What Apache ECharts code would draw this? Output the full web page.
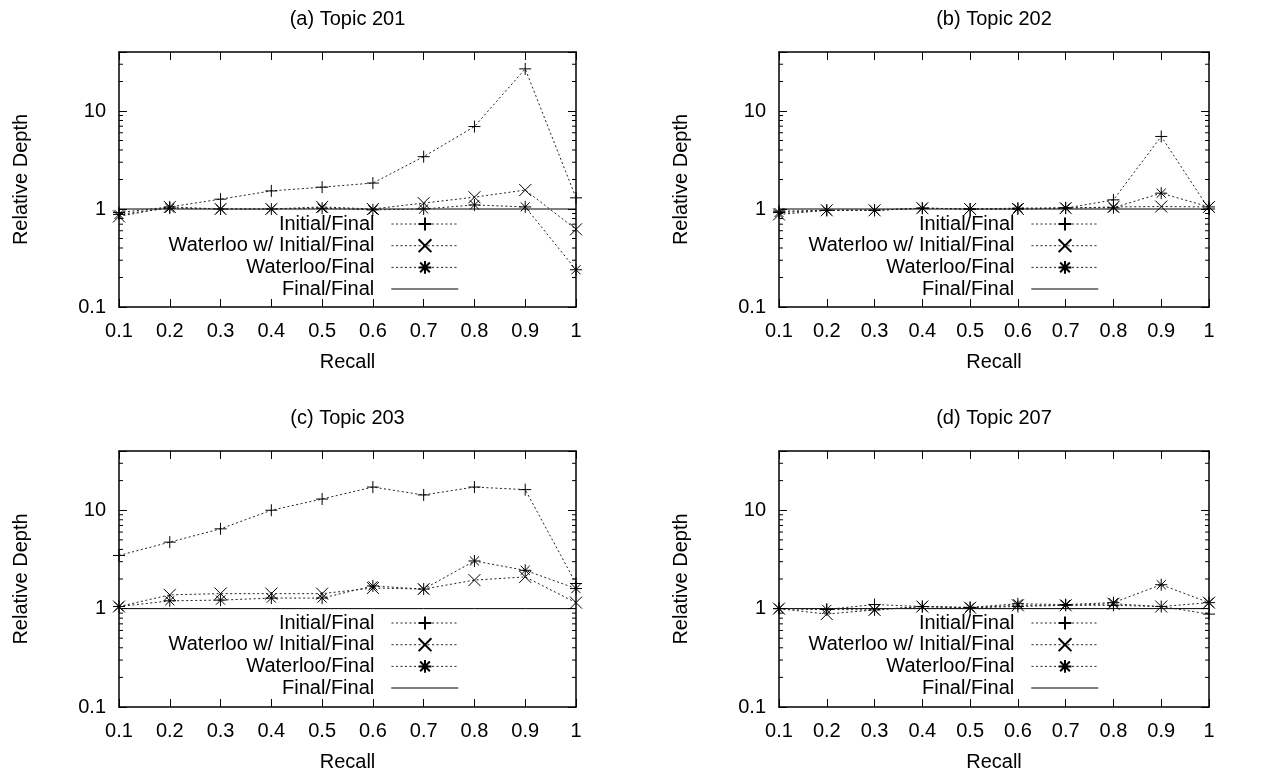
<!DOCTYPE html>
<html>
<head>
<meta charset="utf-8">
<script src="https://cdn.jsdelivr.net/npm/echarts@6/dist/echarts.min.js"></script>
<style>html,body{margin:0;padding:0;background:#fff}#c{width:1272px;height:773px}</style>
</head>
<body>
<div id="c"></div>
<script>
const categories = ['0.1','0.2','0.3','0.4','0.5','0.6','0.7','0.8','0.9','1'];
const seriesNames = ['Initial/Final','Waterloo w/ Initial/Final','Waterloo/Final','Final/Final'];
const titles = ['(a) Topic 201','(b) Topic 202','(c) Topic 203','(d) Topic 207'];
const yTickLabels = [0.1, 1, 10];
const minorTickValues = [0.2,0.3,0.4,0.5,0.6,0.7,0.8,0.9,2,3,4,5,6,7,8,9,20,30];

const a_initial   = [0.92,1.05,1.26,1.53,1.67,1.84,3.42,6.94,26.9,1.3];
const a_waterInit = [0.84,1.05,1.0,1.0,1.05,1.0,1.15,1.32,1.56,0.62];
const a_waterloo  = [0.88,1.02,1.0,1.0,1.02,0.98,1.0,1.1,1.05,0.24];

const b_initial   = [0.95,0.97,0.97,1.02,1.0,1.0,1.02,1.24,5.5,1.0];
const b_waterInit = [0.88,0.97,0.97,1.02,1.0,1.0,1.02,1.05,1.06,1.05];
const b_waterloo  = [0.92,0.97,0.97,1.02,1.0,1.02,1.03,1.03,1.45,1.05];

const c_initial   = [3.47,4.74,6.47,10.0,13.0,17.2,14.3,17.2,16.2,1.8];
const c_waterInit = [1.05,1.38,1.42,1.42,1.42,1.62,1.58,1.95,2.1,1.15];
const c_waterloo  = [1.05,1.2,1.22,1.28,1.28,1.7,1.58,3.05,2.45,1.6];

const d_initial   = [1.0,0.98,1.1,1.05,1.02,1.05,1.08,1.08,1.05,0.88];
const d_waterInit = [1.0,0.88,0.97,1.05,1.02,1.08,1.08,1.12,1.05,1.15];
const d_waterloo  = [1.0,0.98,0.97,1.05,1.03,1.12,1.1,1.15,1.75,1.15];

const finalFinal  = [1,1,1,1,1,1,1,1,1,1];

const panelData = [
  [a_initial, a_waterInit, a_waterloo, finalFinal],
  [b_initial, b_waterInit, b_waterloo, finalFinal],
  [c_initial, c_waterInit, c_waterloo, finalFinal],
  [d_initial, d_waterInit, d_waterloo, finalFinal]
];

const FONT = 'Liberation Sans, Arial, sans-serif';
const FS = 20;
const grids = [
  {left:119, top:52, width:457, height:255},
  {left:779, top:52, width:430, height:255},
  {left:119, top:451, width:457, height:256},
  {left:779, top:451, width:430, height:256}
];
const legendRight = [813, 173, 813, 173];

const symbols = [
  'path://M0,5L10,5M5,0L5,10',
  'path://M0,0L10,10M0,10L10,0',
  'path://M0,5L10,5M5,0L5,10M1.2,1.2L8.8,8.8M1.2,8.8L8.8,1.2',
  'circle'
];

const option = {
  animation:false,
  backgroundColor:'#fff',
  grid: grids.map(g => Object.assign({containLabel:false, show:false}, g)),
  xAxis: [], yAxis: [], series: [], legend: [], graphic: []
};

const axisLine = {show:true, onZero:false, lineStyle:{color:'#000', width:1.5}};
grids.forEach((g, p) => {
  option.xAxis.push({
    type:'category', data:categories, boundaryGap:false, gridIndex:p, position:'bottom',
    axisLine, axisTick:{show:true, inside:true, length:8, lineStyle:{color:'#000'}},
    axisLabel:{color:'#000', fontFamily:FONT, fontSize:FS, margin:14},
    splitLine:{show:false},
    name:'Recall', nameLocation:'middle', nameGap:45,
    nameTextStyle:{color:'#000', fontFamily:FONT, fontSize:FS}
  });
  option.xAxis.push({
    type:'category', data:categories, boundaryGap:false, gridIndex:p, position:'top',
    axisLine, axisTick:{show:true, inside:true, length:8, lineStyle:{color:'#000'}},
    axisLabel:{show:false}, splitLine:{show:false}
  });
  option.yAxis.push({
    type:'log', logBase:10, min:0.1, max:40, gridIndex:p, position:'left',
    axisLine, axisTick:{show:true, inside:true, length:8, lineStyle:{color:'#000'}},
    axisLabel:{color:'#000', fontFamily:FONT, fontSize:FS, margin:13,
      formatter: v => { const m = yTickLabels.find(t => Math.abs(t - v) / t < 1e-6); return m === undefined ? '' : String(m); }},
    splitLine:{show:false},
    name:'Relative Depth', nameLocation:'middle', nameGap:88, nameRotate:90,
    nameTextStyle:{color:'#000', fontFamily:FONT, fontSize:FS}
  });
  option.yAxis.push({
    type:'log', logBase:10, min:0.1, max:40, gridIndex:p, position:'right',
    axisLine, axisTick:{show:true, inside:true, length:8, lineStyle:{color:'#000'}},
    axisLabel:{show:false}, splitLine:{show:false}
  });

  const xi = p*2, yi = p*2;
  panelData[p].forEach((arr, s) => {
    const isFinal = s === 3;
    option.series.push({
      type:'line', name:seriesNames[s], xAxisIndex:xi, yAxisIndex:yi,
      data:arr, symbol:symbols[s], symbolSize: isFinal ? 0 : 12, showSymbol:!isFinal,
      z: isFinal ? 2 : 3,
      lineStyle:{color: isFinal ? '#000' : '#222', width:1, type: isFinal ? 'solid' : [2,2.5]},
      itemStyle: isFinal ? {color:'#000', opacity:0} : {color:'#000', borderColor:'#000', borderWidth:1},
      emphasis:{disabled:true}, silent:true
    });
  });
  option.series.push({
    type:'custom', xAxisIndex:xi, yAxisIndex:yi, silent:true, z:5,
    data: minorTickValues.map(v => [0, v]),
    renderItem: (params, api) => {
      const y = api.coord([0, api.value(1)])[1];
      const cs = params.coordSys;
      return {type:'group', children:[
        {type:'line', shape:{x1:cs.x, y1:y, x2:cs.x+4, y2:y}, style:{stroke:'#000', lineWidth:1}},
        {type:'line', shape:{x1:cs.x+cs.width-4, y1:y, x2:cs.x+cs.width, y2:y}, style:{stroke:'#000', lineWidth:1}}
      ]};
    }
  });

  seriesNames.forEach((name, i) => {
    const isFinal = i === 3;
    const lg = {
      data:[name], orient:'horizontal', align:'right', selectedMode:false,
      right:legendRight[p], top: g.top + 172 + i*21.7 - 10,
      itemWidth:67, itemHeight:16, padding:0,
      textStyle:{color:'#000', fontFamily:FONT, fontSize:FS, padding:[0,12,0,0]},
      lineStyle:{width: isFinal ? 1.5 : 1, color: isFinal ? '#555' : '#222'}
    };
    if (isFinal) lg.itemStyle = {opacity:0};
    option.legend.push(lg);
  });

  option.graphic.push({
    type:'text', x: g.left + g.width/2, y: g.top - 33,
    style:{text:titles[p], fill:'#000', font: FS + 'px ' + FONT, align:'center', textAlign:'center', verticalAlign:'middle', textVerticalAlign:'middle'}
  });
});

const chart = echarts.init(document.getElementById('c'), null, {renderer:'canvas'});
chart.setOption(option);
</script>
</body>
</html>
